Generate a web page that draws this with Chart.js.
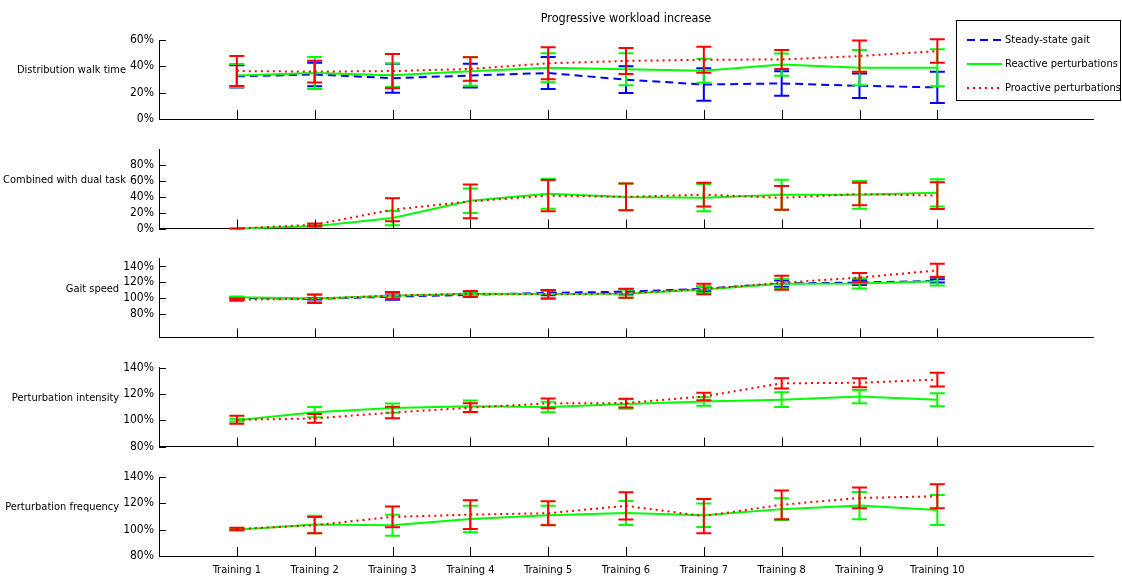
<!DOCTYPE html>
<html lang="en">
<head>
<meta charset="UTF-8">
<title>Progressive workload increase</title>
<script src="https://cdn.jsdelivr.net/npm/chart.js@4.4.0/dist/chart.umd.min.js"></script>
<style>
  body { margin: 0; background: #fff; }
  #wrap { position: relative; width: 1122px; height: 586px; }
  #wrap canvas { position: absolute; left: 0; top: 0; }
</style>
</head>
<body>
<div id="wrap">
  <canvas id="c0" width="1122" height="586"></canvas>
  <canvas id="c1" width="1122" height="586"></canvas>
  <canvas id="c2" width="1122" height="586"></canvas>
  <canvas id="c3" width="1122" height="586"></canvas>
  <canvas id="c4" width="1122" height="586"></canvas>
</div>
<script>
// categories
const trainings = ['Training 1', 'Training 2', 'Training 3', 'Training 4', 'Training 5',
                   'Training 6', 'Training 7', 'Training 8', 'Training 9', 'Training 10'];
const seriesNames = ['Steady-state gait', 'Reactive perturbations', 'Proactive perturbations'];

// Distribution walk time (%), mean and error
const walkSteady       = [32.4, 33.8, 31.0, 33.0, 34.9, 29.9, 26.2, 27.0, 25.2, 24.0];
const walkSteadyErr    = [8.4, 9.0, 11.0, 9.0, 12.1, 10.2, 12.3, 9.3, 9.3, 11.9];
const walkReactive     = [33.0, 34.9, 33.2, 36.2, 38.9, 37.8, 36.7, 41.3, 39.0, 38.9];
const walkReactiveErr  = [8.8, 12.1, 8.9, 10.9, 11.0, 12.2, 9.1, 8.4, 13.4, 14.0];
const walkProactive    = [36.4, 36.0, 36.4, 38.0, 42.3, 44.1, 45.0, 45.2, 47.8, 51.6];
const walkProactiveErr = [11.4, 8.3, 13.0, 8.9, 12.2, 9.9, 9.9, 7.2, 11.9, 8.9];

// Combined with dual task (%)
const dualReactive     = [0, 3.0, 13.2, 35.0, 44.0, 40.0, 39.0, 42.8, 42.6, 45.1];
const dualReactiveErr  = [0, 1.0, 9.0, 15.5, 19.0, 17.0, 17.3, 19.0, 17.6, 17.2];
const dualProactive    = [0, 4.8, 23.8, 34.3, 41.5, 40.0, 42.8, 38.8, 43.6, 41.6];
const dualProactiveErr = [0, 1.5, 14.5, 21.3, 19.8, 17.0, 15.0, 15.0, 14.2, 17.0];

// Gait speed (%)
const speedSteady       = [100.0, 99.0, 101.7, 104.0, 106.5, 108.0, 111.7, 118.3, 119.6, 121.7];
const speedSteadyErr    = [0.5, 1.0, 4.0, 2.0, 3.0, 3.5, 3.0, 4.0, 3.0, 2.0];
const speedReactive     = [101.0, 99.5, 103.0, 105.5, 105.0, 105.4, 110.8, 118.0, 118.5, 121.3];
const speedReactiveErr  = [1.0, 4.5, 3.5, 2.5, 5.0, 5.0, 4.0, 6.0, 6.5, 5.5];
const speedProactive    = [98.0, 99.0, 103.2, 105.1, 104.6, 106.0, 111.3, 119.3, 125.8, 135.0];
const speedProactiveErr = [1.5, 5.3, 4.5, 3.8, 5.4, 5.6, 6.7, 9.0, 5.8, 8.3];

// Perturbation intensity (%)
const intensReactive     = [100.0, 106.1, 109.2, 110.5, 110.0, 112.3, 114.2, 115.6, 117.9, 115.5];
const intensReactiveErr  = [1.0, 3.9, 3.5, 4.4, 4.0, 3.6, 3.2, 5.6, 5.1, 5.0];
const intensProactive    = [100.3, 101.3, 105.8, 109.5, 112.7, 113.0, 118.0, 128.0, 128.4, 130.8];
const intensProactiveErr = [3.0, 3.3, 4.3, 3.3, 3.7, 3.3, 2.9, 3.9, 3.4, 5.2];

// Perturbation frequency (%)
const freqReactive     = [100.0, 103.9, 103.4, 108.1, 111.0, 112.7, 110.9, 115.6, 118.3, 115.0];
const freqReactiveErr  = [0.5, 6.7, 8.0, 10.1, 7.2, 9.1, 8.9, 8.2, 10.3, 11.4];
const freqProactive    = [100.5, 103.4, 109.7, 111.4, 112.5, 118.1, 110.3, 118.9, 124.1, 125.3];
const freqProactiveErr = [1.0, 6.2, 7.9, 10.9, 9.1, 10.4, 13.0, 10.9, 7.9, 9.1];

const panels = [
  { label: 'Distribution walk time', min: 0, max: 60, ticks: [0, 20, 40, 60], top: 40, bottom: 119,
    series: [[walkSteady, walkSteadyErr], [walkReactive, walkReactiveErr], [walkProactive, walkProactiveErr]] },
  { label: 'Combined with dual task', min: 0, max: 100, ticks: [0, 20, 40, 60, 80], top: 149.5, bottom: 228.5,
    series: [null, [dualReactive, dualReactiveErr], [dualProactive, dualProactiveErr]] },
  { label: 'Gait speed', min: 50, max: 150, ticks: [80, 100, 120, 140], top: 258.5, bottom: 337.5,
    series: [[speedSteady, speedSteadyErr], [speedReactive, speedReactiveErr], [speedProactive, speedProactiveErr]] },
  { label: 'Perturbation intensity', min: 80, max: 140, ticks: [80, 100, 120, 140], top: 367.5, bottom: 446.5,
    series: [null, [intensReactive, intensReactiveErr], [intensProactive, intensProactiveErr]] },
  { label: 'Perturbation frequency', min: 80, max: 140, ticks: [80, 100, 120, 140], top: 477, bottom: 556,
    series: [null, [freqReactive, freqReactiveErr], [freqProactive, freqProactiveErr]] }
];

const colors = ['rgb(0,0,255)', 'rgb(0,255,0)', 'rgb(255,0,0)'];
const dashes = [[8, 5], [], [2, 4]];
const FONT = '"Liberation Sans Narrow", "DejaVu Sans Condensed", "Liberation Sans", sans-serif';
const W = 1122, H = 586, LEFT = 159, RIGHT = 1093, YW = 60;

// error bars, drawn right after each line so red ends up on top
const errorBars = {
  id: 'errorBars',
  afterDatasetDraw(chart, args) {
    const ds = chart.data.datasets[args.index];
    const { ctx, scales: { x, y } } = chart;
    ctx.save();
    ctx.strokeStyle = ds.borderColor;
    ctx.lineWidth = 2;
    ctx.setLineDash([]);
    ds.data.forEach((p, j) => {
      const e = ds.err[j];
      const px = x.getPixelForValue(p.x);
      const yt = y.getPixelForValue(p.y + e);
      const yb = y.getPixelForValue(p.y - e);
      ctx.beginPath();
      ctx.moveTo(px, yt); ctx.lineTo(px, yb);
      ctx.moveTo(px - 7.5, yt); ctx.lineTo(px + 7.5, yt);
      ctx.moveTo(px - 7.5, yb); ctx.lineTo(px + 7.5, yb);
      ctx.stroke();
    });
    ctx.restore();
  }
};

// MATLAB style inward tick marks and the horizontal y label
const axisDeco = {
  id: 'axisDeco',
  afterDraw(chart, args, opts) {
    const { ctx, chartArea: a, scales: { x, y } } = chart;
    ctx.save();
    ctx.strokeStyle = '#000';
    ctx.lineWidth = 1;
    ctx.beginPath();
    x.ticks.forEach(t => {
      const px = Math.round(x.getPixelForValue(t.value)) + 0.5;
      ctx.moveTo(px, a.bottom); ctx.lineTo(px, a.bottom - 9);
    });
    y.ticks.forEach(t => {
      const py = Math.round(y.getPixelForValue(t.value)) + 0.5;
      ctx.moveTo(a.left, py); ctx.lineTo(a.left + 7, py);
    });
    ctx.stroke();
    ctx.font = '12px ' + FONT;
    let wmax = 0;
    y.ticks.forEach(t => { wmax = Math.max(wmax, ctx.measureText(t.value + '%').width); });
    ctx.font = '11px ' + FONT;
    ctx.fillStyle = '#000';
    ctx.textAlign = 'right';
    ctx.textBaseline = 'middle';
    ctx.fillText(opts.text, a.left - 5 - wmax - 4, (a.top + a.bottom) / 2 - 9);
    ctx.restore();
  }
};

// title and legend box on the top panel
const header = {
  id: 'header',
  afterDraw(chart, args, opts) {
    if (!opts.show) return;
    const { ctx } = chart;
    ctx.save();
    ctx.font = '12.5px ' + FONT;
    ctx.fillStyle = '#000';
    ctx.textAlign = 'center';
    ctx.textBaseline = 'middle';
    ctx.fillText('Progressive workload increase', (LEFT + RIGHT) / 2, 19);
    ctx.fillStyle = '#fff';
    ctx.fillRect(956, 20, 165, 80);
    ctx.strokeStyle = '#000';
    ctx.lineWidth = 1;
    ctx.strokeRect(956.5, 20.5, 164, 80);
    ctx.font = '11px ' + FONT;
    seriesNames.forEach((name, i) => {
      const ly = 40 + i * 24;
      ctx.strokeStyle = colors[i];
      ctx.lineWidth = 2;
      ctx.setLineDash(dashes[i]);
      ctx.beginPath();
      ctx.moveTo(967, ly); ctx.lineTo(1002, ly);
      ctx.stroke();
      ctx.setLineDash([]);
      ctx.fillStyle = '#000';
      ctx.textAlign = 'left';
      ctx.fillText(name, 1005, ly);
    });
    ctx.restore();
  }
};

panels.forEach((p, k) => {
  const isBottom = k === panels.length - 1;
  const xh = isBottom ? 30 : 0;
  const datasets = [];
  p.series.forEach((s, i) => {
    if (!s) return;
    datasets.push({
      label: seriesNames[i],
      data: s[0].map((v, j) => ({ x: j + 1, y: v })),
      err: s[1],
      borderColor: colors[i],
      borderWidth: 2,
      borderDash: dashes[i],
      pointRadius: 0,
      fill: false,
      tension: 0,
      order: 3 - i,
      clip: false
    });
  });
  new Chart(document.getElementById('c' + k), {
    type: 'line',
    data: { datasets },
    options: {
      responsive: false,
      animation: false,
      devicePixelRatio: 1,
      layout: { padding: { left: LEFT - YW, right: W - RIGHT, top: p.top, bottom: H - p.bottom - xh } },
      plugins: {
        legend: { display: false },
        tooltip: { enabled: false },
        axisDeco: { text: p.label },
        header: { show: k === 0 }
      },
      scales: {
        x: {
          type: 'linear', min: 0, max: 12,
          afterBuildTicks: s => { s.ticks = trainings.map((t, i) => ({ value: i + 1 })); },
          afterFit: s => { s.height = xh; },
          grid: { display: false, drawTicks: false },
          border: { display: true, color: '#000', width: 1 },
          ticks: {
            display: isBottom, autoSkip: false, maxRotation: 0, padding: 8,
            color: '#000', font: { family: FONT, size: 11 },
            callback: v => trainings[v - 1]
          }
        },
        y: {
          type: 'linear', min: p.min, max: p.max,
          afterBuildTicks: s => { s.ticks = p.ticks.map(v => ({ value: v })); },
          afterFit: s => { s.width = YW; },
          grid: { display: false, drawTicks: false },
          border: { display: true, color: '#000', width: 1 },
          ticks: {
            padding: 5, color: '#000', font: { family: FONT, size: 12 },
            callback: v => v + '%'
          }
        }
      }
    },
    plugins: [errorBars, axisDeco, header]
  });
});
</script>
</body>
</html>
